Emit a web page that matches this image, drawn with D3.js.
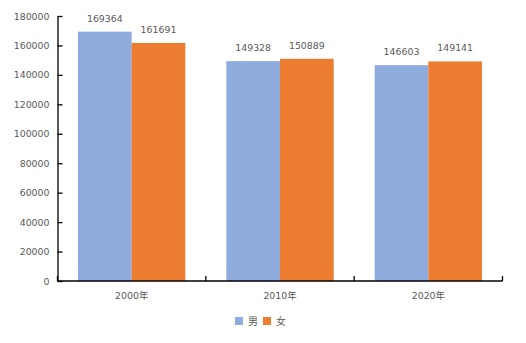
<!DOCTYPE html>
<html>
<head>
<meta charset="utf-8">
<script src="https://cdn.jsdelivr.net/npm/d3@7"></script>
<style>
  html, body { margin: 0; padding: 0; background: #fff; }
  svg { display: block; }
  text { font-family: "DejaVu Sans", "Noto Sans CJK SC", sans-serif; fill: #595959; }
</style>
</head>
<body>
<svg id="chart" width="526" height="343"></svg>
<script>
// Population by sex, three census years
const years = ["2000年", "2010年", "2020年"];
const seriesNames = ["男", "女"];
const male = [169364, 149328, 146603];
const female = [161691, 150889, 149141];
const yTicks = [0, 20000, 40000, 60000, 80000, 100000, 120000, 140000, 160000, 180000];
const colors = ["#8FAADC", "#ED7D31"];
const FONT = "9.4px";

const svg = d3.select("#chart");
const margin = { left: 57.5, right: 23.5, top: 16, bottom: 62 };
const W = 526, H = 343;
const plotW = W - margin.left - margin.right;
const plotH = H - margin.top - margin.bottom;

const g = svg.append("g").attr("transform", `translate(${margin.left},${margin.top})`);

const x0 = d3.scaleBand().domain(years).range([0, plotW]).paddingInner(0).paddingOuter(0);
const x1 = d3.scaleBand().domain(seriesNames).range([20.5, x0.bandwidth() - 20.5]).padding(0);
const y = d3.scaleLinear().domain([0, 180000]).range([plotH, 0]);

const rows = years.map((yr, i) => ({ year: yr, values: [male[i], female[i]] }));

// bars
const grp = g.selectAll("g.cat").data(rows).join("g")
  .attr("class", "cat")
  .attr("transform", d => `translate(${x0(d.year)},0)`);

grp.selectAll("rect").data(d => d.values.map((v, j) => ({ name: seriesNames[j], v, j })))
  .join("rect")
  .attr("x", d => x1(d.name))
  .attr("width", x1.bandwidth())
  .attr("y", d => y(d.v))
  .attr("height", d => plotH - y(d.v))
  .attr("fill", d => colors[d.j]);

// value labels
grp.selectAll("text.val").data(d => d.values.map((v, j) => ({ name: seriesNames[j], v, j })))
  .join("text")
  .attr("class", "val")
  .attr("x", d => x1(d.name) + x1.bandwidth() / 2)
  .attr("y", d => y(d.v) - 10)
  .attr("text-anchor", "middle")
  .attr("font-size", FONT)
  .text(d => d.v);

// y axis
const yAxis = d3.axisLeft(y).tickValues(yTicks).tickSizeInner(-5).tickSizeOuter(0).tickPadding(8).tickFormat(d => d);
const ya = g.append("g").call(yAxis);
ya.select(".domain").attr("stroke", "#000").attr("stroke-width", 1.3);
ya.selectAll(".tick line").attr("stroke", "#000").attr("stroke-width", 1.3);
ya.selectAll(".tick text").attr("font-size", FONT).attr("fill", "#595959")
  .style("font-family", "'DejaVu Sans', 'Noto Sans CJK SC', sans-serif");

// x axis
const xa = g.append("g").attr("transform", `translate(0,${plotH})`);
xa.append("line").attr("x1", 0).attr("x2", plotW).attr("stroke", "#000").attr("stroke-width", 1.3);
const bounds = [0, ...years.map(d => x0(d) + x0.bandwidth())];
xa.selectAll("line.tk").data(bounds).join("line")
  .attr("class", "tk")
  .attr("x1", d => d).attr("x2", d => d)
  .attr("y1", 0).attr("y2", -5)
  .attr("stroke", "#000").attr("stroke-width", 1.3);
xa.selectAll("text").data(years).join("text")
  .attr("x", d => x0(d) + x0.bandwidth() / 2)
  .attr("y", 18)
  .attr("text-anchor", "middle")
  .attr("font-size", FONT)
  .text(d => d);

// legend
const legend = svg.append("g").attr("transform", "translate(235,317)");
const items = legend.selectAll("g").data(seriesNames).join("g")
  .attr("transform", (d, i) => `translate(${i * 28},0)`);
items.append("rect").attr("width", 8).attr("height", 8).attr("fill", (d, i) => colors[i]);
items.append("text").attr("x", 13).attr("y", 8).attr("font-size", "10px").text(d => d);
</script>
</body>
</html>
